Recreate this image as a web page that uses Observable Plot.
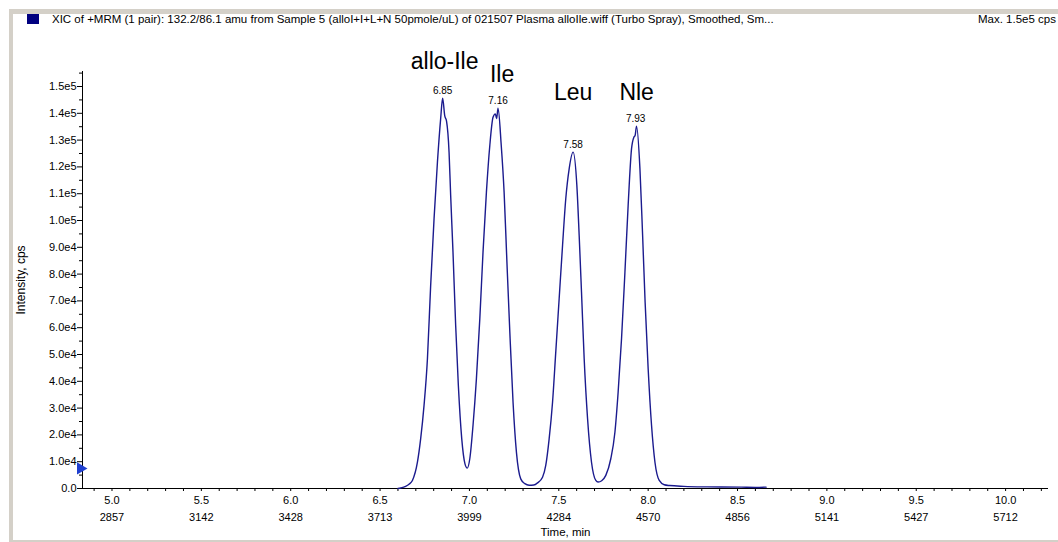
<!DOCTYPE html>
<html>
<head>
<meta charset="utf-8">
<script src="https://cdn.jsdelivr.net/npm/d3@7"></script>
<script src="https://cdn.jsdelivr.net/npm/@observablehq/plot@0.6"></script>
<style>
  html, body { margin: 0; padding: 0; background: #fff; }
  #wrap { position: relative; width: 1058px; height: 542px; overflow: hidden; background: #fff;
          font-family: "Liberation Sans", Arial, sans-serif; }
  #frame { position: absolute; left: 9px; top: 9px; width: 1060px; height: 526px;
           border-top: 5px solid #d4d0c8; border-left: 4px solid #d4d0c8; border-bottom: 3px solid #d4d0c8; }
  #swatch { position: absolute; left: 27px; top: 14px; width: 12px; height: 10px; background: #000080; }
  #title { position: absolute; left: 52px; top: 13px; font-size: 11.5px; line-height: 12px; white-space: nowrap; color: #000; }
  #maxlab { position: absolute; left: 978px; top: 13px; font-size: 11.5px; line-height: 12px; white-space: nowrap; color: #000; }
  #plot { position: absolute; left: 0; top: 0; }
</style>
</head>
<body>
<div id="wrap">
  <div id="frame"></div>
  <div id="swatch"></div>
  <div id="title">XIC of +MRM (1 pair): 132.2/86.1 amu from Sample 5 (alloI+I+L+N 50pmole/uL) of 021507 Plasma alloIle.wiff (Turbo Spray), Smoothed, Sm...</div>
  <div id="maxlab">Max. 1.5e5 cps</div>
  <div id="plot"></div>
</div>
<script>
// ---- data ----
const times = [6.60, 6.615, 6.643, 6.662, 6.681, 6.709, 6.727, 6.746, 6.765, 6.783, 6.802, 6.821, 6.839, 6.85,
  6.862, 6.872, 6.886, 6.895, 6.908, 6.923, 6.938, 6.957, 6.975, 6.988, 7.002, 7.020, 7.039, 7.058, 7.076, 7.095,
  7.114, 7.132, 7.145, 7.152, 7.160, 7.178, 7.194, 7.209, 7.226, 7.244, 7.263, 7.287, 7.31, 7.334, 7.36, 7.381,
  7.409, 7.427, 7.446, 7.465, 7.483, 7.502, 7.521, 7.539, 7.558, 7.580, 7.601, 7.614, 7.627, 7.642, 7.661, 7.683,
  7.707, 7.72, 7.74, 7.763, 7.791, 7.814, 7.832, 7.851, 7.870, 7.888, 7.907, 7.920, 7.927, 7.935, 7.954, 7.969,
  7.983, 8.000, 8.019, 8.038, 8.062, 8.090, 8.12, 8.20, 8.33, 8.52, 8.60, 8.66];
const intensity = [0, 200, 800, 1600, 3000, 9800, 18500, 31000, 48400, 75700, 100600, 121800, 138000, 145600,
  139000, 137000, 125500, 109300, 88200, 60800, 38400, 18500, 9200, 7600, 11100, 23500, 40900, 63300, 88200, 110600,
  128000, 138500, 139800, 138000, 141900, 128000, 110600, 85700, 58300, 32200, 13500, 3600, 1800, 1200, 1300, 2100,
  4200, 8600, 18500, 32200, 50900, 70800, 90700, 108100, 119300, 125500, 113100, 94400, 73300, 48400, 26000, 9800,
  3000, 2400, 2900, 4900, 11100, 21000, 35900, 55900, 80700, 105600, 126800, 131100, 131700, 135200, 119300, 94400,
  69500, 44700, 23500, 9800, 3000, 1400, 1100, 800, 600, 500, 400, 500];

const peakNames = ["allo-Ile", "Ile", "Leu", "Nle"];
const peakTimes = [6.85, 7.16, 7.58, 7.93];
const peakHeights = [145600, 141900, 125500, 135200];

const yTickValues = [0, 10000, 20000, 30000, 40000, 50000, 60000, 70000, 80000, 90000, 100000, 110000, 120000, 130000, 140000, 150000];
const yTickLabels = ["0.0", "1.0e4", "2.0e4", "3.0e4", "4.0e4", "5.0e4", "6.0e4", "7.0e4", "8.0e4", "9.0e4", "1.0e5", "1.1e5", "1.2e5", "1.3e5", "1.4e5", "1.5e5"];
const xTickTimes = [5.0, 5.5, 6.0, 6.5, 7.0, 7.5, 8.0, 8.5, 9.0, 9.5, 10.0];
const xScanLabels = ["2857", "3142", "3428", "3713", "3999", "4284", "4570", "4856", "5141", "5427", "5712"];
const markerLevel = [7500];

// ---- rendering ----
const xDomain = [4.835, 10.24];
const yDomain = [0, 155600];
const trace = times.map((t, i) => ({t, v: intensity[i]}));
const peaks = peakNames.map((name, i) => ({name, t: peakTimes[i], h: peakHeights[i]}));
const yMinor = yTickValues.map(v => v + 5000);
const xMinor = d3.range(49, 103).map(k => k / 10);
const nameDy = [-29, -26, -52, -26];
const nameDx = [2, 4, 0, 1];
const lineColor = "#1b1b8e";

const chart = Plot.plot({
  width: 1058, height: 542,
  marginTop: 71, marginBottom: 54, marginLeft: 82, marginRight: 10,
  x: {domain: xDomain},
  y: {domain: yDomain},
  style: {fontFamily: "Liberation Sans, Arial, sans-serif", fontSize: "11px", background: "transparent", color: "#000", overflow: "visible"},
  marks: [
    Plot.axisY({ticks: yMinor.filter(v => v <= yDomain[1]), tickSize: 3, tickFormat: () => "", label: null}),
    Plot.axisY({ticks: yTickValues, tickSize: 5, tickPadding: 1, tickFormat: d => yTickLabels[yTickValues.indexOf(d)], label: null}),
    Plot.axisX({ticks: xMinor, tickSize: 3, tickFormat: () => "", label: null}),
    Plot.axisX({ticks: xTickTimes, tickSize: 0, tickPadding: 8, tickFormat: d => d.toFixed(1), label: null}),
    Plot.axisX({ticks: xTickTimes, tickSize: 0, tickPadding: 25, tickFormat: d => xScanLabels[xTickTimes.indexOf(d)], label: null}),
    Plot.ruleY([0], {stroke: "#000", strokeWidth: 1}),
    Plot.ruleX([xDomain[0]], {stroke: "#000", strokeWidth: 1}),
    Plot.line(trace, {x: "t", y: "v", stroke: lineColor, strokeWidth: 1.4, curve: "monotone-x"}),
    Plot.text(peaks, {x: "t", y: "h", text: d => d.t.toFixed(2), dy: -4, lineAnchor: "bottom", fontSize: 10}),
    ...peaks.map((p, i) => Plot.text([p], {x: "t", y: "h", text: "name", dy: nameDy[i], dx: nameDx[i], lineAnchor: "bottom", fontSize: 23})),
    Plot.dot(markerLevel, {y: d => d, frameAnchor: "left", dx: -2, symbol: "triangle", r: 4.5, rotate: 90, fill: "#1f3fcf", stroke: "none"}),
    Plot.text(["Time, min"], {frameAnchor: "bottom", dy: 47, text: d => d, fontSize: 11.5}),
    Plot.text(["Intensity, cps"], {frameAnchor: "left", dx: -61, rotate: -90, textAnchor: "middle", text: d => d, fontSize: 12})
  ]
});
document.getElementById("plot").appendChild(chart);
</script>
</body>
</html>
